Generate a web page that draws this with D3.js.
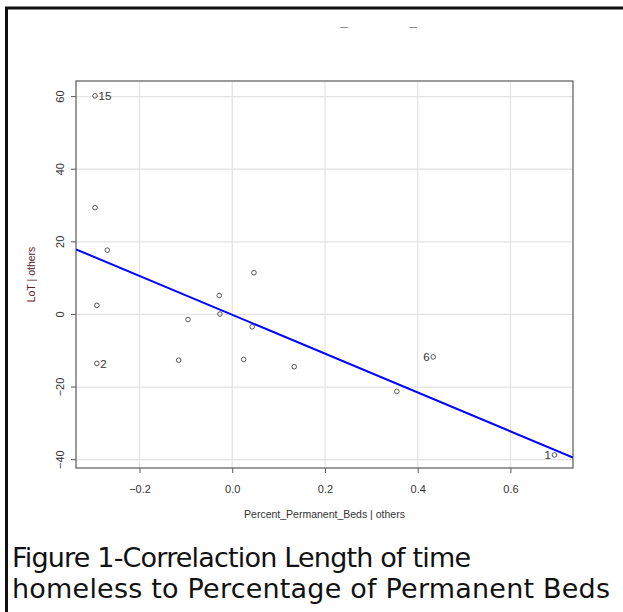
<!DOCTYPE html>
<html>
<head>
<meta charset="utf-8">
<script src="https://cdn.jsdelivr.net/npm/d3@7"></script>
<style>
  html, body { margin: 0; padding: 0; background: #fff; }
  svg { display: block; }
</style>
</head>
<body>
<script>
// Added-variable plot: LoT vs Percent_Permanent_Beds, both adjusted for the other predictors
const xResid = [-0.296, -0.296, -0.2695, -0.292, -0.292, -0.0955, -0.1156, -0.028, -0.0265,
                0.0468, 0.0431, 0.0246, 0.1337, 0.355, 0.4335, 0.695];
const yResid = [60.2, 29.4, 17.7, 2.5, -13.5, -1.4, -12.6, 5.2, 0.1,
                11.5, -3.4, -12.4, -14.4, -21.2, -11.7, -38.7];
const pointIds = ["15", "", "", "", "2", "", "", "", "", "", "", "", "", "", "6", "1"];
const labelSide = ["right", "", "", "", "right", "", "", "", "", "", "", "", "", "", "left", "left"];
const xTicks = [-0.2, 0.0, 0.2, 0.4, 0.6];
const yTicks = [-40, -20, 0, 20, 40, 60];
const fitSlope = -53.5;
const fitIntercept = -0.1;
const xTitle = "Percent_Permanent_Beds | others";
const yTitle = "LoT | others";
const captionLines = ["Figure 1-Correlaction Length of time",
                      "homeless to Percentage of Permanent Beds"];

const W = 623, H = 612;
const plot = { left: 76, right: 573, top: 81, bottom: 468 };

const svg = d3.select("body").append("svg")
  .attr("width", W).attr("height", H);

// page frame
svg.append("rect")
  .attr("x", 6.5).attr("y", 8).attr("width", W + 20).attr("height", H + 20)
  .attr("fill", "none").attr("stroke", "#111").attr("stroke-width", 3);

// stray title marks
svg.selectAll("text.dash").data([344, 413]).enter().append("text")
  .attr("class", "dash")
  .attr("x", d => d).attr("y", 26)
  .attr("text-anchor", "middle")
  .attr("font-family", "Liberation Sans, Arial, sans-serif")
  .attr("font-size", 13).attr("font-weight", "bold").attr("fill", "#222")
  .text("_");

const x = d3.scaleLinear().domain([-0.337, 0.735]).range([plot.left, plot.right]);
const y = d3.scaleLinear().domain([-42.3, 64.3]).range([plot.bottom, plot.top]);

const g = svg.append("g");

// grid
g.selectAll("line.gx").data(xTicks).enter().append("line")
  .attr("x1", d => x(d)).attr("x2", d => x(d))
  .attr("y1", plot.top).attr("y2", plot.bottom)
  .attr("stroke", "#e2e2e2").attr("stroke-width", 1.2);
g.selectAll("line.gy").data(yTicks).enter().append("line")
  .attr("y1", d => y(d)).attr("y2", d => y(d))
  .attr("x1", plot.left).attr("x2", plot.right)
  .attr("stroke", "#e2e2e2").attr("stroke-width", 1.2);

// axes
const xAxis = d3.axisBottom(x).tickValues(xTicks).tickSize(5).tickPadding(12)
  .tickFormat(d3.format(".1f"));
const yAxis = d3.axisLeft(y).tickValues(yTicks).tickSize(5).tickPadding(5)
  .tickFormat(d3.format("d"));

const gx = svg.append("g").attr("transform", `translate(0,${plot.bottom})`).call(xAxis);
const gy = svg.append("g").attr("transform", `translate(${plot.left},0)`).call(yAxis);
[gx, gy].forEach(a => {
  a.select(".domain").remove();
  a.selectAll(".tick line").attr("stroke", "#555");
  a.selectAll(".tick text")
    .attr("font-family", "Liberation Sans, Arial, sans-serif")
    .attr("font-size", 11).attr("fill", "#333");
});
// y tick labels are drawn parallel to the axis
gy.selectAll(".tick").attr("transform", null);
gy.selectAll(".tick line")
  .attr("y1", d => y(d)).attr("y2", d => y(d));
gy.selectAll(".tick text")
  .attr("text-anchor", "middle")
  .attr("dy", null)
  .attr("x", 0).attr("y", 0)
  .attr("transform", d => `translate(-12,${y(d)}) rotate(-90)`);

// plot box
svg.append("rect")
  .attr("x", plot.left).attr("y", plot.top)
  .attr("width", plot.right - plot.left).attr("height", plot.bottom - plot.top)
  .attr("fill", "none").attr("stroke", "#666").attr("stroke-width", 1.3);

// points
const pts = xResid.map((v, i) => ({ x: v, y: yResid[i], id: pointIds[i], side: labelSide[i] }));
svg.append("g").selectAll("circle").data(pts).enter().append("circle")
  .attr("cx", d => x(d.x)).attr("cy", d => y(d.y)).attr("r", 2.3)
  .attr("fill", "none").attr("stroke", "#444").attr("stroke-width", 0.9);

svg.append("g").selectAll("text").data(pts.filter(d => d.id)).enter().append("text")
  .attr("x", d => x(d.x) + (d.side === "right" ? 3.5 : -3.5))
  .attr("y", d => y(d.y))
  .attr("dy", "0.36em")
  .attr("text-anchor", d => d.side === "right" ? "start" : "end")
  .attr("font-family", "Liberation Sans, Arial, sans-serif")
  .attr("font-size", 11.5).attr("fill", "#333")
  .text(d => d.id);

// least-squares line, clipped to the plot region
svg.append("clipPath").attr("id", "plotclip").append("rect")
  .attr("x", plot.left).attr("y", plot.top)
  .attr("width", plot.right - plot.left).attr("height", plot.bottom - plot.top);
const [x0, x1] = x.domain();
svg.append("line")
  .attr("clip-path", "url(#plotclip)")
  .attr("x1", x(x0)).attr("y1", y(fitIntercept + fitSlope * x0))
  .attr("x2", x(x1)).attr("y2", y(fitIntercept + fitSlope * x1))
  .attr("stroke", "#0000ff").attr("stroke-width", 2);

// axis titles
svg.append("text")
  .attr("x", (plot.left + plot.right) / 2).attr("y", 518)
  .attr("text-anchor", "middle")
  .attr("font-family", "Liberation Sans, Arial, sans-serif")
  .attr("font-size", 10.5).attr("fill", "#333")
  .text(xTitle);
svg.append("text")
  .attr("transform", `translate(35,${(plot.top + plot.bottom) / 2}) rotate(-90)`)
  .attr("text-anchor", "middle")
  .attr("font-family", "Liberation Sans, Arial, sans-serif")
  .attr("font-size", 10.5).attr("fill", "#5a2020")
  .text(yTitle);

// caption
const captionWidths = [459, 598];
svg.append("g").selectAll("text").data(captionLines).enter().append("text")
  .attr("x", 12).attr("y", (d, i) => 567 + i * 31)
  .attr("font-family", "DejaVu Sans, Verdana, sans-serif")
  .attr("font-size", 27).attr("fill", "#111")
  .attr("textLength", (d, i) => captionWidths[i])
  .attr("lengthAdjust", "spacing")
  .text(d => d);
</script>
</body>
</html>
